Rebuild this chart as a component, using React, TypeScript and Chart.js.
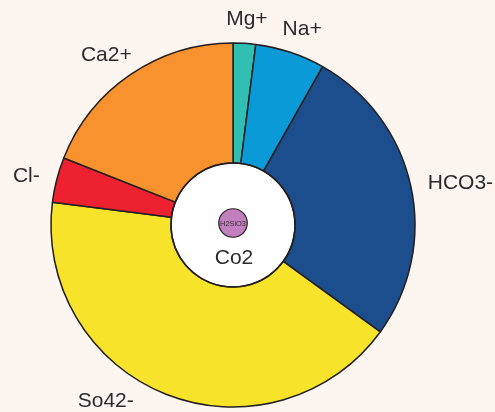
import React, { useEffect, useRef } from "react";
import { Chart, registerables } from "chart.js";

Chart.register(...registerables);

const labels = ["Mg+", "Na+", "HCO3-", "So42-", "Cl-", "Ca2+"];
const values = [2.0, 6.2, 26.8, 42.0, 4.0, 19.0];
const colors = ["#31bfb3", "#0a9ad8", "#1c4d8c", "#f7e42a", "#ee2130", "#f7922e"];
const centerLabel = "Co2";
const innerBubbleLabel = "H2SiO3";

const W = 495;
const H = 412;
const BG = "#fdf5f0";
const FONT = '"Liberation Sans", Arial, sans-serif';

const decorPlugin = {
  id: "decor",
  beforeDraw(chart: any) {
    const ctx = chart.ctx;
    ctx.save();
    ctx.fillStyle = BG;
    ctx.fillRect(0, 0, chart.width, chart.height);
    ctx.restore();
  },
  beforeDatasetsDraw(chart: any) {
    const arc = chart.getDatasetMeta(0).data[0];
    if (!arc) return;
    const { x, y, innerRadius } = arc.getProps(["x", "y", "innerRadius"], true);
    const ctx = chart.ctx;
    ctx.save();
    ctx.beginPath();
    ctx.arc(x, y, innerRadius, 0, Math.PI * 2);
    ctx.fillStyle = "#ffffff";
    ctx.fill();
    ctx.restore();
  },
  afterDatasetsDraw(chart: any) {
    const meta = chart.getDatasetMeta(0);
    const ctx = chart.ctx;
    const first = meta.data[0];
    if (!first) return;
    const { x: cx, y: cy, innerRadius } = first.getProps(["x", "y", "innerRadius"], true);
    // inner circle outline
    ctx.save();
    ctx.beginPath();
    ctx.arc(cx, cy, innerRadius, 0, Math.PI * 2);
    ctx.strokeStyle = "#231f20";
    ctx.lineWidth = 1.5;
    ctx.stroke();

    // small bubble
    const br = innerRadius * 0.23;
    const by = cy - 2;
    ctx.beginPath();
    ctx.arc(cx, by, br, 0, Math.PI * 2);
    ctx.fillStyle = "#c27fbd";
    ctx.fill();
    ctx.lineWidth = 1.2;
    ctx.strokeStyle = "#231f20";
    ctx.stroke();
    ctx.fillStyle = "#3a2a3a";
    ctx.font = `7.4px ${FONT}`;
    ctx.textAlign = "center";
    ctx.textBaseline = "middle";
    ctx.fillText(innerBubbleLabel, cx, by + 0.5);

    // center label
    ctx.fillStyle = "#2b2b2b";
    ctx.font = `21px ${FONT}`;
    ctx.textAlign = "center";
    ctx.textBaseline = "alphabetic";
    ctx.fillText(centerLabel, cx + 1, cy + innerRadius * 0.63);

    // outer labels
    ctx.font = `21px ${FONT}`;
    ctx.textBaseline = "middle";
    ctx.textAlign = "center";
    const th = 18;
    meta.data.forEach((el: any, i: number) => {
      const p = el.getProps(["startAngle", "endAngle", "outerRadius"], true);
      const text = labels[i];
      const tw = ctx.measureText(text).width;
      const place = (a: number) => {
        const r = p.outerRadius + 18;
        const ax = cx + r * Math.cos(a);
        const ay = cy + r * Math.sin(a);
        return {
          x: ax + (tw / 2) * Math.cos(a),
          y: ay + (th / 2) * Math.sin(a) + 3,
        };
      };
      let a = (p.startAngle + p.endAngle) / 2;
      let pos = place(a);
      // slide along the ring if the label would leave the canvas
      const dir = Math.cos(a) < 0 ? 1 : -1;
      let guard = 0;
      while (pos.y + th / 2 > chart.height - 1 && guard < 400) {
        a += dir * 0.005;
        pos = place(a);
        guard++;
      }
      ctx.fillStyle = "#2b2b2b";
      ctx.fillText(text, pos.x, pos.y);
    });
    ctx.restore();
  },
};

export default function App() {
  const ref = useRef<HTMLCanvasElement | null>(null);
  useEffect(() => {
    document.body.style.margin = "0";
    document.body.style.background = BG;
    if (!ref.current) return;
    const chart = new Chart(ref.current, {
      type: "doughnut",
      data: {
        labels,
        datasets: [
          {
            data: values,
            backgroundColor: colors,
            borderColor: "#231f20",
            borderWidth: 1.5,
            borderAlign: "center",
          },
        ],
      },
      options: {
        responsive: false,
        animation: false,
        radius: 182,
        cutout: `${(62 / 182) * 100}%`,
        rotation: 0,
        layout: { padding: { left: 0, right: 29, top: 38, bottom: 0 } },
        plugins: {
          legend: { display: false },
          tooltip: { enabled: false },
        },
      } as any,
      plugins: [decorPlugin],
    });
    return () => chart.destroy();
  }, []);
  return (
    <div style={{ width: W, height: H, background: BG }}>
      <canvas ref={ref} width={W} height={H} style={{ display: "block" }} />
    </div>
  );
}
